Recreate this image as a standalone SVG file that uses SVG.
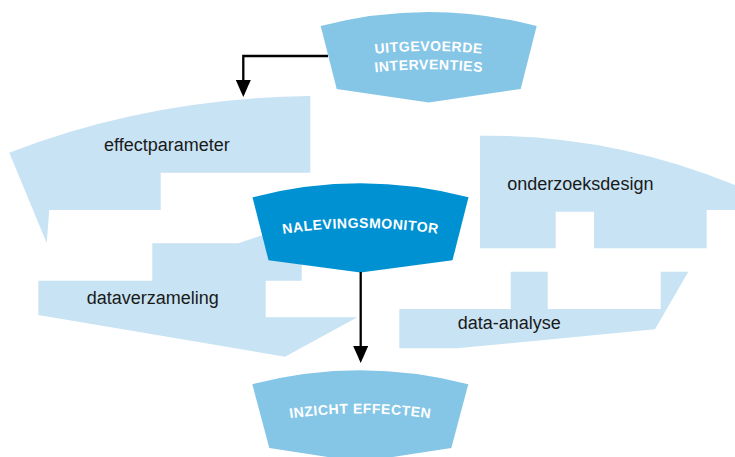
<svg xmlns="http://www.w3.org/2000/svg" width="735" height="457" viewBox="0 0 735 457">
  <style>
    .light { fill: #c8e3f4; }
    .mid { fill: #85c6e7; }
    .dark { fill: #0091d3; }
    .lbl { font-family: "Liberation Sans", Arial, sans-serif; font-size: 18px; fill: #1a1a1a; }
    .cap { font-family: "Liberation Sans", Arial, sans-serif; font-size: 14px; font-weight: bold; fill: #ffffff; letter-spacing: 0.5px; }
    .conn { fill: none; stroke: #000000; stroke-width: 2.3; }
  </style>
  <defs>
    <marker id="arrow" markerUnits="userSpaceOnUse" markerWidth="17" markerHeight="15" viewBox="0 0 17 15" refX="14" refY="7.5" orient="auto">
      <path d="M0,0 L17,7.5 L0,15 Z" fill="#000000"/>
    </marker>
    <path id="arcU1" d="M328.7,61 A500,500 0 0 1 528.7,61"/>
    <path id="arcU2" d="M328.7,79.5 A500,500 0 0 1 528.7,79.5"/>
    <path id="arcN" d="M260.5,238 A500,500 0 0 1 460.5,238"/>
    <path id="arcI" d="M260.3,423.5 A500,500 0 0 1 460.3,423.5"/>
  </defs>

  <g id="effectparameter">
    <path class="light" d="M9.3,152.7 Q150,98 310.3,96 L310.3,172.7 L160.7,172.7 L160.7,210 L49.3,210 L46.7,243 Z"/>
    <text class="lbl" x="104" y="151">effectparameter</text>
  </g>

  <g id="onderzoeksdesign">
    <path class="light" d="M480,135.7 Q610,134 735,185 L735,210 L706.7,210 L706.7,248.3 L594,248.3 L594,211.7 L555.7,211.7 L555.7,248.3 L480,248.3 Z"/>
    <text class="lbl" x="507.3" y="190">onderzoeksdesign</text>
  </g>

  <g id="dataverzameling">
    <path class="light" d="M38.3,280.7 L152.3,280.7 L152.3,243.3 L238.3,243.3 L280,229 L301.7,229 L301.7,280.7 L265.7,280.7 L265.7,317.3 L357.3,317.3 L285,356.7 L38.3,315 Z"/>
    <text class="lbl" x="86.7" y="304">dataverzameling</text>
  </g>

  <g id="data-analyse">
    <path class="light" d="M399.3,309 L510.7,309 L510.7,271.7 L547.7,271.7 L547.7,309 L660.7,309 L660.7,271.7 L688.3,271.7 L655,329.3 L456.7,348.3 L399.3,348.3 Z"/>
    <text class="lbl" x="457.7" y="329.3">data-analyse</text>
  </g>

  <g id="uitgevoerde-interventies">
    <path class="mid" d="M320.7,26 Q428.7,-2 536.7,26 L520.7,89 L428.7,102.5 L336.7,89 Z"/>
    <text class="cap"><textPath href="#arcU1" startOffset="50%" text-anchor="middle">UITGEVOERDE</textPath></text>
    <text class="cap"><textPath href="#arcU2" startOffset="50%" text-anchor="middle">INTERVENTIES</textPath></text>
  </g>

  <g id="nalevingsmonitor">
    <path class="dark" d="M252.5,197.3 Q360.5,169.3 468.5,197.3 L452.5,260.3 L360.5,272.5 L268.5,260.3 Z"/>
    <text class="cap"><textPath href="#arcN" startOffset="50%" text-anchor="middle">NALEVINGSMONITOR</textPath></text>
  </g>

  <g id="inzicht-effecten">
    <path class="mid" d="M252.3,384.3 Q360.3,356.3 468.3,384.3 L451.3,448 L360.3,462 L269.3,448 Z"/>
    <text class="cap"><textPath href="#arcI" startOffset="50%" text-anchor="middle">INZICHT EFFECTEN</textPath></text>
  </g>

  <g id="connectors">
    <path class="conn" d="M328,56 H243.3 V94" marker-end="url(#arrow)"/>
    <path class="conn" d="M360.7,272 V360" marker-end="url(#arrow)"/>
  </g>
</svg>
